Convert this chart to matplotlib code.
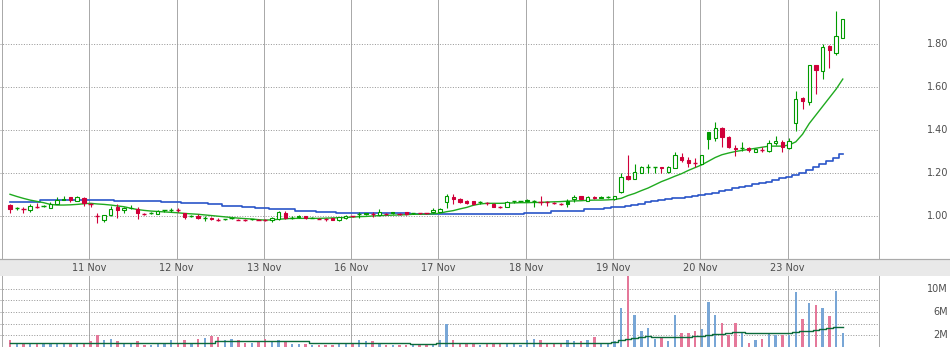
import matplotlib
matplotlib.use("Agg")
import matplotlib.pyplot as plt
from matplotlib.patches import Rectangle
from matplotlib.transforms import blended_transform_factory

# ---------------- data (30-minute bars, 10 Nov .. 23 Nov) ----------------
opens = [1.051, 1.036, 1.034, 1.027, 1.044, 1.046, 1.039, 1.057, 1.079, 1.087,
         1.070, 1.082, 1.057, 0.998, 0.981, 1.005, 1.040, 1.027, 1.039, 1.034,
         1.008, 1.015, 1.010, 1.026, 1.030, 1.028, 1.014, 1.002, 1.000, 0.993,
         0.991, 0.982, 0.984, 0.989, 0.983, 0.982, 0.985, 0.983, 0.980, 0.980,
         0.985, 1.014, 0.992, 0.999, 0.998, 0.993, 0.987, 0.985, 0.990, 0.980,
         0.989, 0.998, 1.008, 1.013, 1.007, 1.004, 1.010, 1.017, 1.011, 1.017,
         1.014, 1.013, 1.012, 1.017, 1.020, 1.067, 1.087, 1.078, 1.071, 1.068,
         1.063, 1.059, 1.056, 1.041, 1.043, 1.069, 1.070, 1.075, 1.072, 1.066,
         1.063, 1.061, 1.055, 1.071, 1.079, 1.093, 1.071, 1.090, 1.090, 1.088,
         1.078, 1.113, 1.186, 1.174, 1.202, 1.228, 1.230, 1.226, 1.203, 1.222,
         1.276, 1.262, 1.245, 1.242, 1.389, 1.361, 1.411, 1.369, 1.318, 1.315,
         1.316, 1.299, 1.309, 1.304, 1.341, 1.346, 1.315, 1.434, 1.549, 1.529,
         1.701, 1.676, 1.791, 1.760, 1.830]
highs = [1.057, 1.042, 1.040, 1.054, 1.059, 1.052, 1.064, 1.090, 1.093, 1.090,
         1.091, 1.090, 1.060, 1.012, 1.005, 1.047, 1.056, 1.044, 1.051, 1.040,
         1.012, 1.019, 1.026, 1.030, 1.037, 1.035, 1.016, 1.006, 1.008, 1.000,
         0.994, 0.990, 0.988, 0.992, 0.986, 0.985, 0.988, 0.986, 0.984, 0.997,
         1.022, 1.023, 1.000, 1.003, 1.000, 0.997, 0.990, 0.992, 0.993, 0.997,
         1.003, 1.002, 1.017, 1.016, 1.017, 1.033, 1.014, 1.019, 1.014, 1.018,
         1.016, 1.015, 1.014, 1.036, 1.036, 1.101, 1.102, 1.082, 1.073, 1.070,
         1.068, 1.066, 1.060, 1.048, 1.068, 1.071, 1.072, 1.077, 1.073, 1.093,
         1.070, 1.065, 1.061, 1.078, 1.098, 1.095, 1.093, 1.093, 1.093, 1.092,
         1.095, 1.198, 1.284, 1.242, 1.234, 1.240, 1.230, 1.230, 1.232, 1.300,
         1.294, 1.273, 1.268, 1.284, 1.392, 1.439, 1.416, 1.372, 1.330, 1.346,
         1.319, 1.312, 1.320, 1.353, 1.372, 1.353, 1.361, 1.583, 1.555, 1.702,
         1.701, 1.800, 1.795, 1.954, 1.915]
lows = [1.016, 1.030, 1.016, 1.017, 1.036, 1.040, 1.036, 1.057, 1.073, 1.067,
        1.069, 1.048, 1.043, 0.968, 0.974, 1.000, 0.989, 1.013, 1.031, 0.985,
        1.004, 1.011, 1.008, 1.018, 1.020, 1.020, 0.986, 0.996, 0.984, 0.977,
        0.982, 0.976, 0.981, 0.985, 0.980, 0.979, 0.982, 0.980, 0.975, 0.970,
        0.982, 0.985, 0.985, 0.990, 0.985, 0.990, 0.985, 0.978, 0.980, 0.978,
        0.988, 0.994, 0.992, 1.005, 0.996, 1.002, 1.006, 1.008, 1.006, 1.006,
        1.010, 1.010, 1.008, 1.015, 1.018, 1.039, 1.058, 1.060, 1.055, 1.052,
        1.058, 1.052, 1.040, 1.036, 1.040, 1.062, 1.063, 1.068, 1.040, 1.051,
        1.048, 1.055, 1.050, 1.043, 1.066, 1.080, 1.068, 1.078, 1.083, 1.084,
        1.076, 1.109, 1.167, 1.171, 1.198, 1.198, 1.198, 1.198, 1.198, 1.222,
        1.252, 1.229, 1.229, 1.240, 1.310, 1.350, 1.322, 1.315, 1.279, 1.304,
        1.299, 1.297, 1.299, 1.299, 1.330, 1.299, 1.310, 1.397, 1.498, 1.518,
        1.568, 1.637, 1.687, 1.749, 1.830]
closes = [1.032, 1.036, 1.034, 1.047, 1.044, 1.046, 1.057, 1.074, 1.076, 1.073,
          1.090, 1.059, 1.057, 0.998, 1.004, 1.031, 1.028, 1.036, 1.037, 1.012,
          1.008, 1.015, 1.022, 1.026, 1.030, 1.028, 0.997, 1.002, 0.991, 0.993,
          0.984, 0.982, 0.984, 0.989, 0.983, 0.982, 0.985, 0.983, 0.980, 0.992,
          1.017, 0.989, 0.992, 0.994, 0.990, 0.993, 0.987, 0.985, 0.983, 0.994,
          1.000, 0.998, 1.008, 1.010, 1.007, 1.017, 1.010, 1.012, 1.011, 1.009,
          1.014, 1.013, 1.012, 1.028, 1.033, 1.093, 1.078, 1.066, 1.060, 1.057,
          1.063, 1.059, 1.043, 1.041, 1.067, 1.069, 1.070, 1.071, 1.072, 1.066,
          1.063, 1.061, 1.055, 1.058, 1.090, 1.080, 1.090, 1.082, 1.086, 1.088,
          1.092, 1.183, 1.174, 1.203, 1.226, 1.228, 1.230, 1.224, 1.227, 1.284,
          1.260, 1.248, 1.245, 1.284, 1.358, 1.408, 1.369, 1.319, 1.310, 1.315,
          1.307, 1.310, 1.309, 1.341, 1.350, 1.322, 1.350, 1.544, 1.537, 1.702,
          1.679, 1.785, 1.772, 1.837, 1.915]
prev_close = 1.045

volumes = [1.14, 0.46, 0.46, 0.69, 0.69, 0.46, 0.74, 0.74, 0.46, 0.46,
           0.46, 0.46, 1.03, 2.00, 1.14, 1.31, 0.97, 0.69, 0.46, 0.97,
           0.29, 0.29, 0.69, 0.69, 1.14, 0.69, 1.14, 0.69, 1.31, 1.54,
           1.83, 1.66, 1.14, 1.31, 1.14, 0.74, 0.69, 0.86, 1.31, 0.86,
           1.14, 0.86, 0.46, 0.46, 0.46, 0.29, 0.29, 0.29, 0.29, 0.57,
           0.74, 0.57, 1.14, 0.97, 0.97, 0.57, 0.29, 0.29, 0.29, 0.29,
           0.29, 0.29, 0.29, 0.40, 1.14, 4.00, 1.26, 0.69, 0.51, 0.46,
           0.29, 0.69, 0.69, 0.46, 0.69, 0.69, 0.29, 1.14, 1.43, 1.14,
           0.69, 0.46, 0.46, 1.14, 0.97, 0.97, 1.14, 1.71, 0.46, 0.74,
           0.97, 6.69, 12.6, 5.54, 2.69, 3.26, 1.31, 1.54, 0.97, 5.43,
           2.46, 2.46, 2.69, 3.03, 7.71, 5.43, 4.17, 2.11, 4.17, 2.46,
           0.69, 1.14, 1.31, 2.46, 2.11, 2.00, 2.00, 9.43, 4.74, 7.60,
           7.14, 6.69, 5.26, 9.60, 2.40]

ma_short = [1.101, 1.091, 1.082, 1.074, 1.068, 1.062, 1.054, 1.051, 1.051, 1.052,
            1.054, 1.057, 1.059, 1.056, 1.054, 1.051, 1.047, 1.043, 1.036, 1.030,
            1.026, 1.023, 1.021, 1.019, 1.017, 1.015, 1.012, 1.010, 1.008, 1.005,
            1.002, 0.999, 0.996, 0.993, 0.990, 0.988, 0.986, 0.983, 0.981, 0.982,
            0.985, 0.987, 0.989, 0.989, 0.989, 0.989, 0.989, 0.990, 0.991, 0.992,
            0.993, 0.995, 0.997, 0.998, 1.000, 1.002, 1.003, 1.004, 1.005, 1.006,
            1.008, 1.008, 1.009, 1.010, 1.013, 1.020, 1.025, 1.033, 1.040, 1.050,
            1.056, 1.059, 1.059, 1.059, 1.060, 1.061, 1.062, 1.062, 1.063, 1.063,
            1.065, 1.066, 1.067, 1.069, 1.070, 1.071, 1.073, 1.074, 1.074, 1.075,
            1.077, 1.082, 1.095, 1.105, 1.118, 1.130, 1.145, 1.160, 1.172, 1.185,
            1.197, 1.212, 1.225, 1.238, 1.255, 1.272, 1.285, 1.293, 1.300, 1.305,
            1.310, 1.315, 1.320, 1.325, 1.325, 1.325, 1.330, 1.345, 1.380, 1.430,
            1.470, 1.510, 1.550, 1.590, 1.637]

ma_long = [1.066, 1.066, 1.066, 1.066, 1.066, 1.073, 1.073, 1.073, 1.073, 1.073,
           1.073, 1.073, 1.073, 1.073, 1.073, 1.073, 1.069, 1.069, 1.069, 1.069,
           1.069, 1.069, 1.069, 1.064, 1.064, 1.064, 1.059, 1.059, 1.059, 1.059,
           1.054, 1.054, 1.048, 1.048, 1.048, 1.043, 1.043, 1.039, 1.039, 1.033,
           1.033, 1.033, 1.033, 1.025, 1.025, 1.025, 1.018, 1.018, 1.018, 1.012,
           1.012, 1.012, 1.012, 1.012, 1.012, 1.012, 1.012, 1.012, 1.012, 1.012,
           1.008, 1.008, 1.008, 1.008, 1.008, 1.008, 1.008, 1.008, 1.008, 1.008,
           1.008, 1.008, 1.008, 1.008, 1.008, 1.008, 1.008, 1.015, 1.015, 1.015,
           1.015, 1.023, 1.023, 1.023, 1.023, 1.023, 1.031, 1.031, 1.031, 1.036,
           1.043, 1.043, 1.048, 1.053, 1.058, 1.063, 1.068, 1.073, 1.078, 1.082,
           1.086, 1.090, 1.094, 1.098, 1.102, 1.107, 1.114, 1.122, 1.129, 1.135,
           1.141, 1.147, 1.153, 1.160, 1.168, 1.175, 1.182, 1.192, 1.202, 1.214,
           1.226, 1.240, 1.254, 1.270, 1.287]

vol_ma = [
    0.74, 0.74, 0.74, 0.74, 0.74, 0.74, 0.74, 0.74, 0.74, 0.74,
    0.74, 0.74, 0.74, 0.74, 0.74, 0.74, 0.74, 0.74, 0.74, 0.74,
    0.74, 0.74, 0.74, 0.74, 0.74, 0.74, 0.74, 0.74, 0.74, 0.74,
    0.74, 0.97, 0.97, 0.97, 0.97, 0.97, 0.97, 0.97, 0.97, 0.97,
    0.97, 0.97, 0.97, 0.97, 0.97, 0.74, 0.74, 0.74, 0.74, 0.74,
    0.74, 0.74, 0.74, 0.74, 0.74, 0.74, 0.74, 0.74, 0.74, 0.74,
    0.51, 0.51, 0.51, 0.51, 0.74, 0.74, 0.74, 0.74, 0.74, 0.74,
    0.74, 0.74, 0.74, 0.74, 0.74, 0.74, 0.74, 0.74, 0.74, 0.74,
    0.74, 0.74, 0.74, 0.74, 0.74, 0.74, 0.74, 0.74, 0.74, 0.74,
    0.85, 1.20, 1.45, 1.60, 1.75, 1.85, 1.80, 1.70, 1.66, 1.75,
    1.75, 1.75, 1.85, 1.95, 2.10, 2.25, 2.30, 2.35, 2.50, 2.50,
    2.35, 2.35, 2.35, 2.35, 2.35, 2.35, 2.40, 2.55, 2.70, 2.80,
    2.90, 3.10, 3.20, 3.50, 3.40]

first_bar_index = -1                       # 10 Nov session starts before view
day_first_bar = [12, 25, 38, 51, 64, 77, 90, 103, 116]
day_labels = ["11 Nov", "12 Nov", "13 Nov", "16 Nov", "17 Nov",
              "18 Nov", "19 Nov", "20 Nov", "23 Nov"]
price_ticks = [1.00, 1.20, 1.40, 1.60, 1.80]
vol_grid = [2, 4, 6, 8, 10]
vol_ticks = [2, 6, 10]

# ---------------- styling ----------------
W, H = 950, 347
GREEN = "#009a00"
RED = "#d0003a"
VBLUE = "#78a6d6"
VPINK = "#e5789a"
GRID = "#aaaaaa"
TXT = "#4d4d4d"
PX = 0.72

fig = plt.figure(figsize=(W / 100, H / 100), dpi=100)
fig.patch.set_facecolor("white")

ax_p = fig.add_axes([0, (H - 259) / H, 879 / W, 259 / H])
ax_b = fig.add_axes([0, (H - 276) / H, 1, 17 / H])
ax_v = fig.add_axes([0, 0, 879 / W, 71 / H])

xlo, xhi = -1.489, 129.39
n = len(closes)
xs = list(range(n))

for ax in (ax_p, ax_v):
    ax.set_xlim(xlo, xhi)
    ax.set_xticks([])
    ax.set_yticks([])
    for s in ("top", "left", "bottom"):
        ax.spines[s].set_visible(False)
    ax.spines["right"].set_color(GRID)
    ax.spines["right"].set_linewidth(PX)
    for d in [first_bar_index] + day_first_bar:
        ax.axvline(d - 0.2, color=GRID, lw=PX, zorder=1)

# ---- price panel ----
ax_p.set_ylim(0.8, 2.0047)
for t in price_ticks:
    ax_p.axhline(t, color="#999999", lw=PX, ls=(0, (1, 1.6)), zorder=1)

ax_p.plot(xs, ma_long, color="#2a55c8", lw=1.2, drawstyle="steps-mid", zorder=2)
ax_p.plot(xs, ma_short, color="#1faa1f", lw=1.0, zorder=2)

bw = 0.5
for i in range(n):
    o, h, l, c = opens[i], highs[i], lows[i], closes[i]
    pc = prev_close if i == 0 else closes[i - 1]
    col = GREEN if c >= pc else RED
    ax_p.vlines(i, l, h, color=col, lw=PX * 1.1, zorder=3)
    if abs(c - o) < 1e-9:
        ax_p.hlines(c, i - 0.32, i + 0.32, color=col, lw=PX * 1.4, zorder=4)
    else:
        fc = "white" if c > o else col
        ax_p.add_patch(Rectangle((i - bw / 2, min(o, c)), bw, abs(c - o),
                                 facecolor=fc, edgecolor=col, lw=PX * 1.1,
                                 zorder=4))

tr_p = blended_transform_factory(fig.transFigure, ax_p.transData)
for t in price_ticks:
    ax_p.text(948 / W, t, f"{t:.2f}", transform=tr_p, ha="right", va="center",
              fontsize=7, color=TXT, family="DejaVu Sans", clip_on=False)

# ---- date band ----
ax_b.set_xlim(0, W)
ax_b.set_ylim(0, 1)
ax_b.set_facecolor("#e9e9e9")
ax_b.set_xticks([])
ax_b.set_yticks([])
for s in ("left", "right", "bottom"):
    ax_b.spines[s].set_visible(False)
ax_b.spines["top"].set_color(GRID)
ax_b.spines["top"].set_linewidth(PX * 1.2)
tr_b = blended_transform_factory(ax_p.transData, ax_b.transAxes)
for d, lab in zip(day_first_bar, day_labels):
    ax_b.text(d - 0.2, 0.45, lab, transform=tr_b, ha="center", va="center",
              fontsize=7, color=TXT, family="DejaVu Sans")

# ---- volume panel ----
ax_v.set_ylim(0, 12.18)
for t in vol_grid:
    ax_v.axhline(t, color="#999999", lw=PX, ls=(0, (1, 1.6)), zorder=1)
vcols = []
for i in range(n):
    pc = prev_close if i == 0 else closes[i - 1]
    vcols.append(VBLUE if closes[i] >= pc else VPINK)
ax_v.bar(xs, volumes, width=0.36, color=vcols, linewidth=0, zorder=2)
ax_v.plot(xs, vol_ma, color="#0b6a3a", lw=1.0, drawstyle="steps-mid", zorder=3)

tr_v = blended_transform_factory(fig.transFigure, ax_v.transData)
for t in vol_ticks:
    ax_v.text(948 / W, t, f"{t}M", transform=tr_v, ha="right", va="center",
              fontsize=7, color=TXT, family="DejaVu Sans", clip_on=False)

fig.savefig("out.png", dpi=100)
